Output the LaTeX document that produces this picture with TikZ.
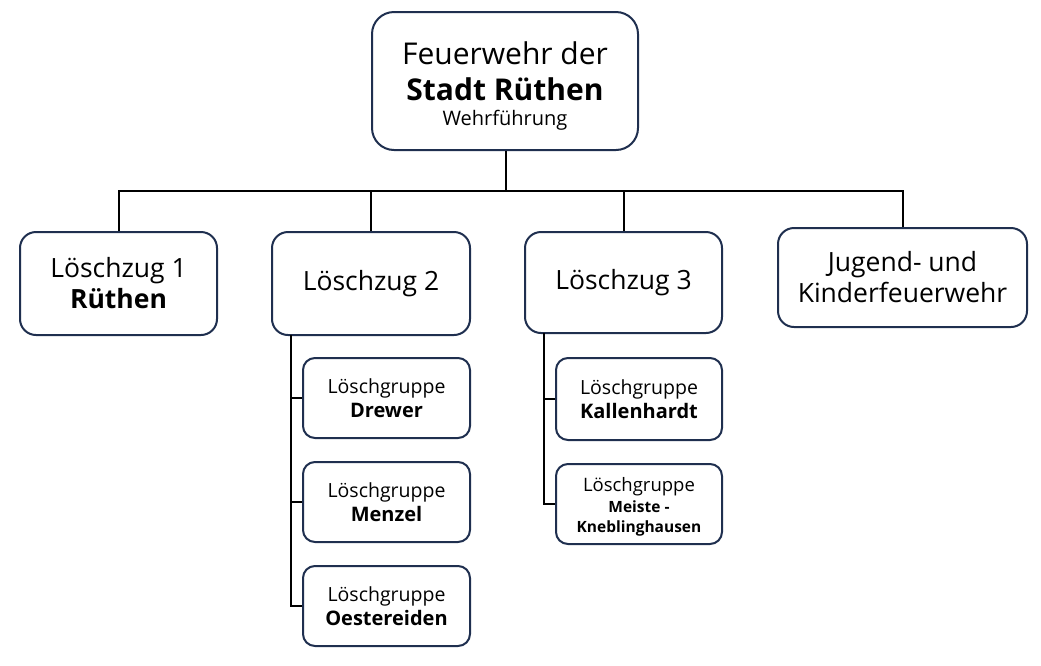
\documentclass[tikz,border=0pt]{standalone}
\usepackage{fontspec}
\setmainfont{Open Sans}
\definecolor{boxline}{HTML}{1F2F4F}
\begin{document}
\begin{tikzpicture}[x=1pt,y=-1pt,
  box/.style={draw=boxline,line width=2pt,rounded corners=16pt,fill=white,align=center,inner sep=0pt,font=\fontsize{26.5}{31}\selectfont},
  sub/.style={draw=boxline,line width=2pt,rounded corners=12pt,fill=white,align=center,inner sep=0pt,font=\fontsize{19.5}{24}\selectfont},
  conn/.style={line width=2pt,black}]
\useasboundingbox (0,0) rectangle (1041,665);
\node[box,minimum width=266pt,minimum height=138pt,rounded corners=22pt] (top) at (505,81)
  {\fontsize{30}{37}\selectfont\rule{0pt}{32pt}Feuerwehr der\\[5pt]\fontsize{30}{33}\selectfont\bfseries Stadt Rüthen\\[-6pt]\fontsize{20}{29}\selectfont Wehrführung};
\node[box,minimum width=197pt,minimum height=103pt] (lz1) at (118.5,283.5) {Löschzug 1\\\bfseries Rüthen};
\node[box,minimum width=198pt,minimum height=103pt] (lz2) at (371,283.5) {Löschzug 2};
\node[box,minimum width=197pt,minimum height=101pt] (lz3) at (623.5,282.5) {Löschzug 3};
\node[box,minimum width=249pt,minimum height=99pt] (jug) at (902.5,277.5) {Jugend- und\\Kinderfeuerwehr};
\node[sub,minimum width=167pt,minimum height=80pt] (dre) at (386.5,398) {Löschgruppe\\\bfseries\fontsize{20}{24}\selectfont Drewer};
\node[sub,minimum width=167pt,minimum height=80pt] (men) at (386.5,502) {Löschgruppe\\\bfseries\fontsize{20}{24}\selectfont Menzel};
\node[sub,minimum width=167pt,minimum height=80pt] (oes) at (386.5,606) {Löschgruppe\\\bfseries\fontsize{20}{24}\selectfont Oestereiden};
\node[sub,minimum width=166pt,minimum height=82pt] (kal) at (639,399) {Löschgruppe\\\bfseries\fontsize{20}{24}\selectfont Kallenhardt};
\node[sub,minimum width=166pt,minimum height=80pt] (mei) at (639,504) {\fontsize{18.5}{21}\selectfont\rule{0pt}{20pt}Löschgruppe\\[-3pt]\bfseries\fontsize{15.5}{20}\selectfont Meiste -\\[-4pt]\bfseries\fontsize{15.5}{19}\selectfont Kneblinghausen};
\coordinate (bus) at (506,191);
\draw[conn] (top.south -| bus) -- (bus);
\draw[conn] (lz1.north) |- (bus) -| (jug.north);
\draw[conn] (lz2.north) -- (lz2.north |- bus);
\draw[conn] (lz3.north) -- (lz3.north |- bus);
\coordinate (v2) at (291,335);
\coordinate (v3) at (544,333);
\draw[conn] (v2) |- (oes.west);
\draw[conn] (v2 |- dre.west) -- (dre.west);
\draw[conn] (v2 |- men.west) -- (men.west);
\draw[conn] (v3) |- (mei.west);
\draw[conn] (v3 |- kal.west) -- (kal.west);
\end{tikzpicture}
\end{document}
